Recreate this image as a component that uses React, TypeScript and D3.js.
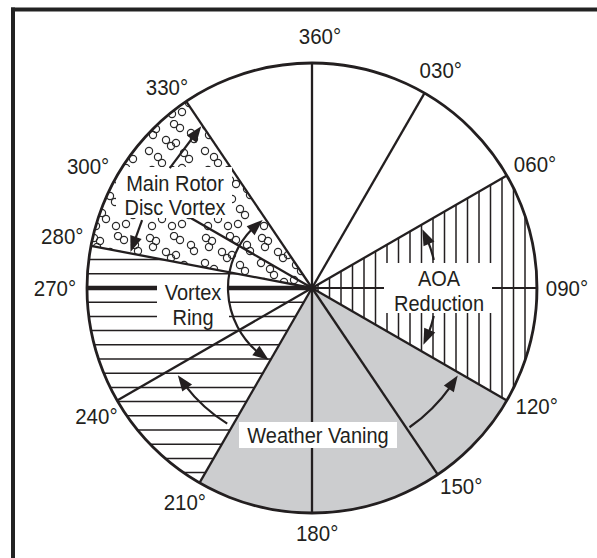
import React from 'react';
import * as d3 from 'd3';

const W = 597, H = 558;
const CX = 312, CY = 288, R = 225;

// Bearing lines as drawn in the figure (degrees clockwise from north)
const bearingLabels = ['360°', '030°', '060°', '090°', '120°', '150°', '180°', '210°', '240°', '270°', '280°', '300°', '330°'];
const bearingLines = [0, 30, 60, 90, 120, 146, 180, 210, 240, 270, 280.8, 300, 326];
const labelBearings = [1.8, 30.6, 61, 90, 117.8, 143, 178.8, 210.7, 239.2, 270, 281.7, 298.6, 324.2];
const labelRadii = [252, 253, 255, 255, 254, 248, 245, 249, 251, 257, 255, 255, 248];

// Zones
const zoneNames = ['AOA Reduction', 'Weather Vaning', 'Vortex Ring', 'Main Rotor Disc Vortex'];
const zoneStart = [60, 120, 210, 280.8];
const zoneEnd = [120, 210, 280.8, 326];

// Straight arrows: [bearing, radius] from -> to
const straightFrom = [[310.1, 186], [291.8, 183]];
const straightTo = [[325.6, 196], [281.2, 185]];

// Curved arrows around the centre: radius, from bearing, to bearing, both heads?
const arcRadius = [84, 125, 125, 170, 160];
const arcFrom = [211, 77, 103, 145, 212];
const arcTo = [324, 62, 117, 121, 237];
const arcBoth = [true, false, false, false, false];

// Dot texture tile (pattern)
const dotTile = [[6, 6], [12, 9], [9, 15], [30, 4], [36, 8], [47, 13], [50, 19], [22, 20], [27, 26], [32, 23], [5, 31], [14, 37], [18, 43], [40, 33], [45, 39], [38, 48], [28, 50], [8, 50]];

const rad = Math.PI / 180;
const polar = (b: number, r: number): [number, number] => [CX + r * Math.sin(b * rad), CY - r * Math.cos(b * rad)];

const INK = '#231f20';
const FONT = '"Liberation Sans", Arial, Helvetica, sans-serif';
const HEAD_L = 16, HEAD_W = 12;
const TEXT_SY = 1.06;

function head(tip: [number, number], from: [number, number]) {
  const dx = tip[0] - from[0], dy = tip[1] - from[1];
  const len = Math.hypot(dx, dy);
  const ux = dx / len, uy = dy / len;
  const bx = tip[0] - ux * HEAD_L, by = tip[1] - uy * HEAD_L;
  const px = -uy * HEAD_W / 2, py = ux * HEAD_W / 2;
  return `${tip[0]},${tip[1]} ${bx + px},${by + py} ${bx - px},${by - py}`;
}

const sectorPath = (s: number, e: number) =>
  d3.arc()({ innerRadius: 0, outerRadius: R, startAngle: s * rad, endAngle: e * rad } as any) as string;

function Label({ x, y, size, children }: { x: number; y: number; size: number; children: string }) {
  return (
    <text transform={`translate(${x},${y}) scale(1,${TEXT_SY})`} textAnchor="middle" dominantBaseline="central"
      fontFamily={FONT} fontSize={size} fill={INK}>{children}</text>
  );
}

export default function App() {
  const hLines = d3.range(-16, 17).map(k => CY + k * 14.2);
  const vLines = d3.range(0, 20).map(k => CX + 6 + k * 11.5);

  const arcs = arcRadius.map((r, i) => {
    const a0 = arcFrom[i], a1 = arcTo[i];
    const sgn = a1 > a0 ? 1 : -1;
    const dA = (HEAD_L / r) / rad;
    const s = arcBoth[i] ? a0 + sgn * dA * 0.8 : a0;
    const e = a1 - sgn * dA * 0.8;
    const p = d3.path();
    p.arc(0, 0, r, (s - 90) * rad, (e - 90) * rad, sgn < 0);
    const heads: string[] = [];
    heads.push(head(polar(a1, r), polar(a1 - sgn * dA, r)));
    if (arcBoth[i]) heads.push(head(polar(a0, r), polar(a0 + sgn * dA, r)));
    return { d: p.toString(), heads };
  });

  const boxes = [
    { x0: 116, y0: 167, x1: 232, y1: 218 },
    { x0: 157, y0: 279, x1: 229, y1: 328 },
    { x0: 384, y0: 263, x1: 492, y1: 313 },
    { x0: 239, y0: 422, x1: 397, y1: 448 },
  ];
  const texts = [
    { t: 'Main Rotor', x: 175, y: 183.5 },
    { t: 'Disc Vortex', x: 175, y: 207.5 },
    { t: 'Vortex', x: 193, y: 292.5 },
    { t: 'Ring', x: 193, y: 317.5 },
    { t: 'AOA', x: 439, y: 278.5 },
    { t: 'Reduction', x: 439, y: 303.5 },
    { t: 'Weather Vaning', x: 318, y: 435 },
  ];

  return (
    <svg width={W} height={H} style={{ position: 'absolute', left: 0, top: 0, background: '#fff' }}>
      <defs>
        <pattern id="dots" width={56} height={56} patternUnits="userSpaceOnUse">
          {dotTile.map((d, i) => (
            <circle key={i} cx={d[0]} cy={d[1]} r={3.6} fill="none" stroke="#2a2a2a" strokeWidth={1.2} />
          ))}
        </pattern>
        {zoneNames.map((n, i) => (
          <clipPath id={`clip${i}`} key={n}>
            <path d={sectorPath(zoneStart[i], zoneEnd[i])} transform={`translate(${CX},${CY})`} />
          </clipPath>
        ))}
      </defs>

      {/* frame */}
      <line x1={11} y1={9.5} x2={W} y2={9.5} stroke="#222" strokeWidth={4} />
      <line x1={13} y1={7.5} x2={13} y2={H} stroke="#222" strokeWidth={4} />

      <g>
        <path d={sectorPath(zoneStart[1], zoneEnd[1])} transform={`translate(${CX},${CY})`} fill="#cccdcf" />
        <path d={sectorPath(zoneStart[3], zoneEnd[3])} transform={`translate(${CX},${CY})`} fill="url(#dots)" />
        <g clipPath="url(#clip0)">
          {vLines.map((x, i) => (
            <line key={i} x1={x} x2={x} y1={CY - R} y2={CY + R} stroke={INK} strokeWidth={1.5} />
          ))}
        </g>
        <g clipPath="url(#clip2)">
          {hLines.map((y, i) => (
            <line key={i} x1={CX - R} x2={CX + R} y1={y} y2={y} stroke={INK} strokeWidth={1.5} />
          ))}
        </g>
      </g>

      {bearingLines.map((b, i) => {
        const [x, y] = polar(b, R);
        const sw = b === 270 ? 4.5 : b === 90 ? 2 : 2.3;
        return <line key={i} x1={CX} y1={CY} x2={x} y2={y} stroke={INK} strokeWidth={sw} />;
      })}

      {boxes.map((b, i) => (
        <rect key={i} x={b.x0} y={b.y0} width={b.x1 - b.x0} height={b.y1 - b.y0} fill="#fff" />
      ))}

      <circle cx={CX} cy={CY} r={R} fill="none" stroke={INK} strokeWidth={2.8} />

      {straightFrom.map((f, i) => {
        const a = polar(f[0], f[1]);
        const t = polar(straightTo[i][0], straightTo[i][1]);
        const dx = t[0] - a[0], dy = t[1] - a[1];
        const len = Math.hypot(dx, dy);
        const ex = t[0] - dx / len * HEAD_L * 0.8, ey = t[1] - dy / len * HEAD_L * 0.8;
        return (
          <g key={i}>
            <line x1={a[0]} y1={a[1]} x2={ex} y2={ey} stroke={INK} strokeWidth={2.2} />
            <polygon points={head(t, a)} fill={INK} />
          </g>
        );
      })}
      {arcs.map((a, i) => (
        <g key={i}>
          <path d={a.d} transform={`translate(${CX},${CY})`} fill="none" stroke={INK} strokeWidth={2.2} />
          {a.heads.map((h, j) => <polygon key={j} points={h} fill={INK} />)}
        </g>
      ))}

      {texts.map((t, i) => (
        <Label key={i} x={t.x} y={t.y} size={20}>{t.t}</Label>
      ))}

      {bearingLabels.map((l, i) => {
        const [x, y] = polar(labelBearings[i], labelRadii[i]);
        return <Label key={l} x={x} y={y} size={20.5}>{l}</Label>;
      })}
    </svg>
  );
}
